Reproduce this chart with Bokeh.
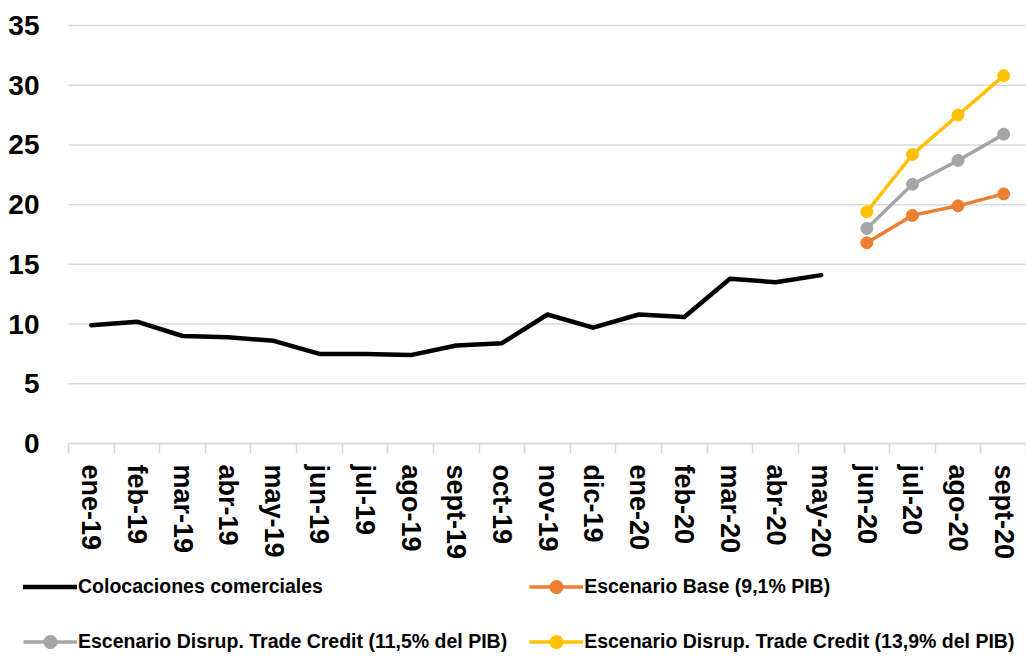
from bokeh.plotting import figure
from bokeh.models import (Range1d, FixedTicker, CustomJSTickFormatter, Legend,
                          LegendItem)
from bokeh.embed import file_html
from bokeh.resources import INLINE

# Monthly categories
months = ["ene-19", "feb-19", "mar-19", "abr-19", "may-19", "jun-19", "jul-19",
          "ago-19", "sept-19", "oct-19", "nov-19", "dic-19", "ene-20", "feb-20",
          "mar-20", "abr-20", "may-20", "jun-20", "jul-20", "ago-20", "sept-20"]

# Observed commercial loans (ene-19 .. may-20)
colocaciones = [9.9, 10.2, 9.0, 8.9, 8.6, 7.5, 7.5, 7.4, 8.2, 8.4, 10.8, 9.7,
                10.8, 10.6, 13.8, 13.5, 14.1]

# Scenario projections (jun-20 .. sept-20)
escenario_base = [16.8, 19.1, 19.9, 20.9]
disrup_115 = [18.0, 21.7, 23.7, 25.9]
disrup_139 = [19.4, 24.2, 27.5, 30.8]

y_ticks = [0, 5, 10, 15, 20, 25, 30, 35]

FONT = "Liberation Sans"
GRID = "#d9d9d9"
W, H = 1026, 658
PLOT_LEFT, PLOT_TOP, PLOT_BOTTOM = 68, 25, 443   # pixel edges of the data area

n = len(months)
centers = [i + 0.5 for i in range(n)]
x_obs = centers[:len(colocaciones)]
x_proj = centers[n - len(escenario_base):]

# The frame covers the whole canvas; ranges are padded so the data area
# sits where the axes and legend leave room for it.
y_lo, y_hi = y_ticks[0], y_ticks[-1]
px_x = (W - PLOT_LEFT) / n
px_y = (PLOT_BOTTOM - PLOT_TOP) / (y_hi - y_lo)
x_range = Range1d(-PLOT_LEFT / px_x, n)
y_range = Range1d(y_lo - (H - PLOT_BOTTOM) / px_y, y_hi + PLOT_TOP / px_y)

p = figure(width=W, height=H, output_backend="svg", toolbar_location=None,
           x_range=x_range, y_range=y_range,
           min_border_left=0, min_border_right=0, min_border_top=0,
           min_border_bottom=0)
p.outline_line_color = None
p.background_fill_color = "white"
p.xgrid.grid_line_color = None
p.ygrid.grid_line_color = None

# Horizontal gridlines across the data area only
p.segment(x0=0, x1=n, y0=y_ticks, y1=y_ticks, line_color=GRID, line_width=1.5)

# Y axis pinned at x = 0: labels only
yax = p.yaxis[0]
yax.fixed_location = 0
yax.ticker = FixedTicker(ticks=y_ticks)
yax.axis_line_color = None
yax.major_tick_line_color = None
yax.minor_tick_line_color = None
yax.major_label_text_font = FONT
yax.major_label_text_font_style = "bold"
yax.major_label_text_font_size = "28px"
yax.major_label_text_color = "#000000"
yax.major_label_standoff = 23

# X axis pinned at y = 0: month labels at centers, ticks between months
xax = p.xaxis[0]
xax.fixed_location = 0
xax.bounds = (0, n)
xax.ticker = FixedTicker(ticks=centers, minor_ticks=list(range(n + 1)))
xax.formatter = CustomJSTickFormatter(
    args=dict(labels=months), code="return labels[Math.floor(tick)];")
xax.axis_line_color = GRID
xax.axis_line_width = 1.5
xax.major_tick_line_color = None
xax.major_tick_out = 0
xax.major_tick_in = 0
xax.minor_tick_line_color = GRID
xax.minor_tick_line_width = 1.5
xax.minor_tick_out = 10
xax.minor_tick_in = 0
xax.major_label_orientation = "vertical"
xax.major_label_standoff = 11
xax.major_label_text_font = FONT
xax.major_label_text_font_style = "bold"
xax.major_label_text_font_size = "27px"
xax.major_label_text_color = "#000000"

r_obs = p.line(x_obs, colocaciones, line_color="#000000", line_width=4.5,
               line_join="round", line_cap="round")

series = [
    ("Escenario Base (9,1% PIB)", escenario_base, "#ED7D31"),
    ("Escenario Disrup. Trade Credit (11,5% del PIB)", disrup_115, "#A5A5A5"),
    ("Escenario Disrup. Trade Credit (13,9% del PIB)", disrup_139, "#FFC000"),
]
items = [LegendItem(label="Colocaciones comerciales", renderers=[r_obs])]
for label, vals, color in series:
    rl = p.line(x_proj, vals, line_color=color, line_width=3.5,
                line_join="round")
    rs = p.scatter(x_proj, vals, size=12, fill_color=color, line_color=color)
    items.append(LegendItem(label=label, renderers=[rl, rs]))

legend = Legend(items=items, location=(23, 0), orientation="horizontal",
                ncols=2, glyph_width=54, glyph_height=33, spacing=22,
                label_standoff=1, padding=0, margin=0,
                label_text_font=FONT, label_text_font_style="bold",
                label_text_font_size="19.5px", label_text_color="#000000",
                background_fill_alpha=0, border_line_color=None)
p.add_layout(legend)

open("out.html", "w").write(file_html(p, INLINE))
